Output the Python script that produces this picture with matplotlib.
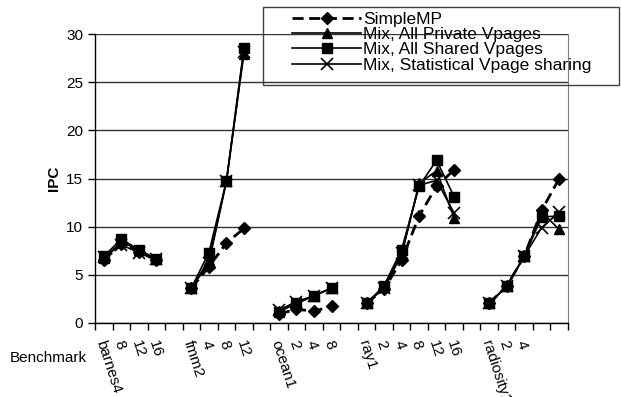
import numpy as np
import matplotlib.pyplot as plt
from matplotlib.patches import Rectangle

plt.rcParams['font.family'] = ['Liberation Sans', 'DejaVu Sans']

# Category labels (blank = gap between benchmarks)
labels = ["barnes4", "8", "12", "16", "",
          "fmm2", "4", "8", "12", "",
          "ocean1", "2", "4", "8", "",
          "ray1", "2", "4", "8", "12", "16", "",
          "radiosity1", "2", "4", "", ""]

nan = np.nan
simple_mp = [6.5, 8.2, 7.4, 6.5, nan,
             3.6, 5.8, 8.3, 9.8, nan,
             0.9, 1.4, 1.2, 1.7, nan,
             2.0, 3.5, 6.5, 11.1, 14.2, 15.9, nan,
             2.0, 3.8, 6.9, 11.7, 15.0]
private = [6.7, 8.4, 7.6, 6.6, nan,
           3.6, 6.5, 14.7, 28.0, nan,
           1.2, 2.0, 2.8, 3.6, nan,
           2.0, 3.7, 7.0, 14.5, 15.8, 10.9, nan,
           2.0, 3.8, 6.9, 11.5, 9.7]
shared = [6.9, 8.7, 7.6, 6.6, nan,
          3.6, 7.3, 14.7, 28.6, nan,
          1.15, 2.0, 2.8, 3.6, nan,
          2.0, 3.85, 7.6, 14.2, 16.9, 13.1, nan,
          2.0, 3.8, 6.9, 11.0, 11.1]
statistical = [6.8, 8.1, 7.3, 6.6, nan,
               3.6, 6.2, 14.7, 28.2, nan,
               1.3, 2.2, 2.8, 3.6, nan,
               2.0, 3.6, 7.2, 14.3, 14.8, 11.4, nan,
               2.0, 3.8, 6.9, 9.9, 11.5]

x = np.arange(len(labels))

fig = plt.figure(figsize=(6.21, 3.97), dpi=100)
ax = fig.add_axes([95 / 621, 1 - 322.7 / 397, 473 / 621, 288.4 / 397])

h1, = ax.plot(x, simple_mp, color='black', lw=2, ls=(0, (4, 2)), marker='D', ms=6,
              label="SimpleMP")
h2, = ax.plot(x, private, color='black', lw=1.2, marker='^', ms=7,
              label="Mix, All Private Vpages")
h3, = ax.plot(x, shared, color='black', lw=1.2, marker='s', ms=7,
              label="Mix, All Shared Vpages")
h4, = ax.plot(x, statistical, color='black', lw=1.2, marker='x', ms=8, mew=1.2,
              label="Mix, Statistical Vpage sharing")

ax.set_xlim(-0.5, len(labels) - 0.5)
ax.set_ylim(0, 30)
ax.set_yticks(range(0, 31, 5))
ax.yaxis.grid(True, color='#333333', lw=1)
ax.set_axisbelow(True)
ax.tick_params(axis='y', labelsize=11, length=5, direction='out', width=1)

ax.set_xticks(x - 0.2)
ax.set_xticklabels(labels, rotation=-72, fontsize=11, va='center', ha='left',
                   rotation_mode='anchor')
ax.tick_params(axis='x', which='major', length=0, pad=13)
ax.set_xticks(np.arange(-0.5, len(labels)), minor=True)
ax.tick_params(axis='x', which='minor', length=5, direction='out', width=1)

ax.spines['top'].set_visible(False)
ax.spines['right'].set_color('#808080')
ax.spines['left'].set_linewidth(1)
ax.spines['bottom'].set_linewidth(1)

ax.set_ylabel("IPC", fontsize=11, fontweight='bold', labelpad=4)
fig.text(10 / 621, 1 - 358 / 397, "Benchmark", fontsize=11, va='center', ha='left')

# legend box
fig.patches.append(Rectangle((262.7 / 621, 1 - 85 / 397), 356 / 621, 78.3 / 397,
                             transform=fig.transFigure, fill=False,
                             edgecolor='#404040', lw=1))
fig.legend(handles=[h1, h2, h3, h4], loc='upper left',
           bbox_to_anchor=(292 / 621, 1 - 12 / 397), frameon=False,
           fontsize=12.5, handlelength=4.0, handletextpad=0.1,
           labelspacing=0.0, borderpad=0, borderaxespad=0)

fig.savefig("out.png", dpi=100)
